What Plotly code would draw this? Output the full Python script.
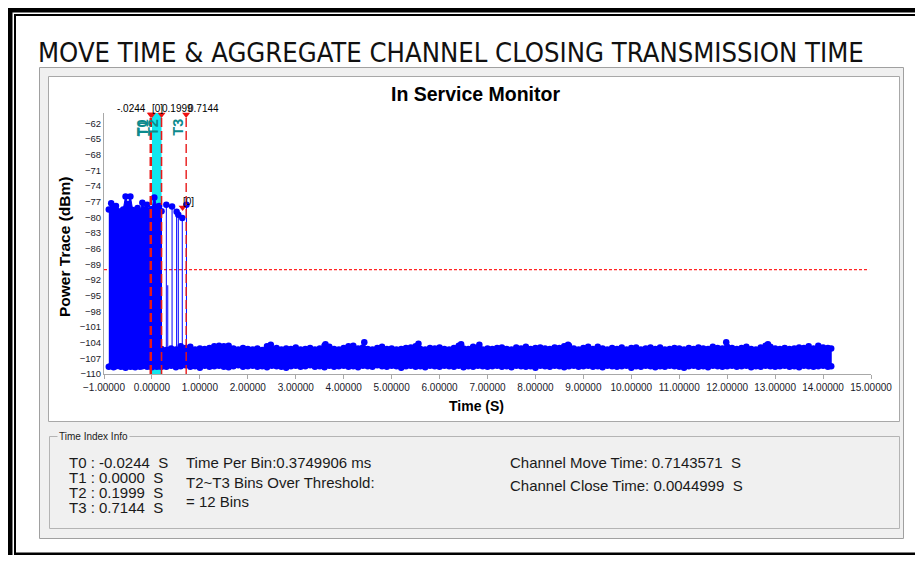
import plotly.graph_objects as go

# ---------------- data ----------------
# high-power block before the channel move (-0.9 .. 0.2 s)
t_hi = [-0.90, -0.85, -0.80, -0.75, -0.70, -0.65, -0.60, -0.55, -0.50, -0.45,
        -0.40, -0.35, -0.30, -0.25, -0.20, -0.15, -0.10, -0.05, 0.00, 0.05,
        0.10, 0.15, 0.20]
p_hi_top = [-78.5, -77.3, -78.0, -77.8, -78.8, -79.0, -78.5, -76.0, -77.5, -76.0,
            -78.6, -78.8, -78.2, -78.9, -77.2, -78.5, -77.6, -78.8, -78.4, -76.2,
            -78.0, -77.8, -78.8]
p_hi_bot = [-108.6, -108.4, -108.7, -108.5, -108.3, -108.6, -108.5, -108.8, -108.4, -108.6,
            -108.5, -108.7, -108.4, -108.6, -108.5, -108.3, -108.6, -108.5, -108.7, -108.4,
            -108.6, -108.5, -108.6]

# low-power floor after the move (0.2 .. 14.17 s)
t_lo = [0.2, 0.3, 0.4, 0.5, 0.6, 0.7, 0.8, 0.9, 1.0, 1.1,
        1.2, 1.3, 1.4, 1.5, 1.6, 1.7, 1.8, 1.9, 2.0, 2.1,
        2.2, 2.3, 2.4, 2.5, 2.6, 2.7, 2.8, 2.9, 3.0, 3.1,
        3.2, 3.3, 3.4, 3.5, 3.6, 3.7, 3.8, 3.9, 4.0, 4.1,
        4.2, 4.3, 4.4, 4.5, 4.6, 4.7, 4.8, 4.9, 5.0, 5.1,
        5.2, 5.3, 5.4, 5.5, 5.6, 5.7, 5.8, 5.9, 6.0, 6.1,
        6.2, 6.3, 6.4, 6.5, 6.6, 6.7, 6.8, 6.9, 7.0, 7.1,
        7.2, 7.3, 7.4, 7.5, 7.6, 7.7, 7.8, 7.9, 8.0, 8.1,
        8.2, 8.3, 8.4, 8.5, 8.6, 8.7, 8.8, 8.9, 9.0, 9.1,
        9.2, 9.3, 9.4, 9.5, 9.6, 9.7, 9.8, 9.9, 10.0, 10.1,
        10.2, 10.3, 10.4, 10.5, 10.6, 10.7, 10.8, 10.9, 11.0, 11.1,
        11.2, 11.3, 11.4, 11.5, 11.6, 11.7, 11.8, 11.9, 12.0, 12.1,
        12.2, 12.3, 12.4, 12.5, 12.6, 12.7, 12.8, 12.9, 13.0, 13.1,
        13.2, 13.3, 13.4, 13.5, 13.6, 13.7, 13.8, 13.9, 14.0, 14.1,
        14.17]
p_lo_top = [-105.2, -105.4, -105.1, -105.3, -104.7, -105.0, -104.8, -105.3, -105.1, -105.2,
            -105.0, -104.7, -104.6, -104.7, -104.6, -105.1, -105.3, -105.0, -105.2, -105.3,
            -105.1, -105.4, -104.7, -105.2, -105.0, -105.3, -105.1, -105.2, -104.9, -105.3,
            -105.2, -105.0, -105.3, -105.1, -104.6, -104.8, -105.2, -105.3, -105.0, -104.7,
            -104.6, -105.1, -104.9, -105.2, -105.3, -105.0, -104.8, -105.2, -105.1, -105.3,
            -105.2, -105.0, -104.9, -104.7, -105.2, -105.3, -105.0, -105.1, -104.9, -105.2,
            -105.3, -105.0, -104.6, -105.1, -105.2, -104.8, -104.9, -105.3, -105.1, -105.2,
            -105.0, -104.9, -105.2, -105.3, -104.9, -105.1, -104.8, -105.2, -105.0, -104.9,
            -105.1, -105.2, -104.9, -105.0, -104.7, -104.6, -105.1, -105.3, -105.0, -104.8,
            -105.2, -104.8, -105.1, -105.3, -105.0, -105.2, -104.9, -105.3, -105.0, -104.9,
            -105.3, -105.1, -104.9, -105.2, -104.9, -105.3, -105.2, -105.0, -105.1, -105.3,
            -105.0, -105.2, -104.9, -105.1, -105.2, -104.8, -105.0, -105.1, -104.8, -105.0,
            -105.2, -105.0, -104.8, -105.2, -105.3, -104.9, -104.6, -104.8, -105.1, -105.2,
            -105.0, -105.2, -105.1, -104.9, -105.0, -104.7, -105.1, -104.6, -104.9, -105.0,
            -105.1]
p_lo_bot = [-108.5, -108.6, -108.4, -108.7, -108.5, -108.3, -108.6, -108.5, -108.8, -108.4,
            -108.6, -108.5, -108.4, -108.6, -108.7, -108.5, -108.3, -108.6, -108.5, -108.4,
            -108.6, -108.5, -108.7, -108.4, -108.5, -108.6, -108.8, -108.5, -108.4, -108.6,
            -108.5, -108.3, -108.6, -108.5, -108.7, -108.4, -108.6, -108.5, -108.4, -108.6,
            -108.5, -108.7, -108.4, -108.5, -108.6, -108.3, -108.5, -108.6, -108.4, -108.5,
            -108.8, -108.5, -108.4, -108.6, -108.5, -108.7, -108.4, -108.5, -108.6, -108.4,
            -108.5, -108.6, -108.4, -108.7, -108.5, -108.6, -108.4, -108.5, -108.6, -108.5,
            -108.4, -108.6, -108.5, -108.7, -108.4, -108.5, -108.6, -108.5, -108.8, -108.4,
            -108.5, -108.6, -108.4, -108.5, -108.7, -108.5, -108.4, -108.6, -108.5, -108.4,
            -108.6, -108.5, -108.7, -108.4, -108.5, -108.6, -108.5, -108.4, -108.8, -108.5,
            -108.6, -108.4, -108.5, -108.7, -108.5, -108.6, -108.4, -108.5, -108.6, -108.8,
            -108.5, -108.4, -108.6, -108.5, -108.7, -108.4, -108.5, -108.6, -108.5, -108.4,
            -108.6, -108.5, -108.4, -108.7, -108.5, -108.6, -108.4, -108.5, -108.6, -108.5,
            -108.4, -108.6, -108.5, -108.7, -108.4, -108.5, -108.6, -108.5, -108.4, -108.6,
            -108.5]

# isolated peaks above the floor
t_peak = [2.48, 3.62, 4.43, 5.56, 6.45, 6.83, 8.68, 11.98, 12.85]
p_peak = [-104.4, -104.3, -103.9, -104.2, -104.3, -104.4, -104.4, -103.9, -104.3]

# spikes between T2 and T3 (with dots) and one bare stem
t_spike = [0.30, 0.42, 0.515, 0.55, 0.633, 0.72]
p_spike = [-77.6, -77.9, -78.9, -79.5, -80.1, -77.6]
t_stem = [0.33]
p_stem = [-93.0]

# time markers
t_marks = [-0.0244, 0.0, 0.1999, 0.7144]
t_names = ["T0", "T1", "T2", "T3"]
threshold = -90
x_ticks = list(range(-1, 16))
y_ticks = [-110, -107, -104, -101, -98, -95, -92, -89, -86, -83, -80, -77, -74, -71, -68, -65, -62]

info_t = ["T0 : -0.0244  S", "T1 : 0.0000  S", "T2 : 0.1999  S", "T3 : 0.7144  S"]

# ---------------- layout geometry ----------------
# the page body has an 8px margin: figure is placed at (8, 8) in the window
OFF = 8
W, H = 915, 547
L, R, T, B = 96, 52, 105, 181
PW = W - L - R
PH = H - T - B


def fx(px):
    # px: window pixel x
    return (px - OFF - L) / PW


def fy(py):
    # py: window pixel y
    return (H - B - (py - OFF)) / PH


BLUE = "#0000ff"
FONT = "Liberation Sans, Arial, sans-serif"

fig = go.Figure()

# cyan band T1..T2
fig.add_shape(type="rect", xref="x", yref="y", x0=t_marks[1], x1=t_marks[2], y0=-110, y1=-60,
              fillcolor="#12e6ef", line=dict(width=0), layer="below")
# threshold
fig.add_shape(type="line", xref="x", yref="y", x0=-1, x1=14.96, y0=threshold, y1=threshold,
              line=dict(color="#ff2424", width=1.3, dash="3px,2px"), layer="below")

# high block polygon
fig.add_trace(go.Scatter(x=t_hi + t_hi[::-1], y=p_hi_top + p_hi_bot[::-1], mode="lines",
                         fill="toself", fillcolor=BLUE, line=dict(color=BLUE, width=1),
                         hoverinfo="skip", showlegend=False))
fig.add_trace(go.Scatter(x=t_lo + t_lo[::-1], y=p_lo_top + p_lo_bot[::-1], mode="lines",
                         fill="toself", fillcolor=BLUE, line=dict(color=BLUE, width=1),
                         hoverinfo="skip", showlegend=False))
# stems for spikes and peaks
sx, sy = [], []
for t, p in zip(t_spike + t_stem, p_spike + p_stem):
    sx += [t, t, None]
    sy += [-106, p, None]
for t, p in zip(t_peak, p_peak):
    sx += [t, t, None]
    sy += [-105, p, None]
fig.add_trace(go.Scatter(x=sx, y=sy, mode="lines", line=dict(color=BLUE, width=1),
                         hoverinfo="skip", showlegend=False))
# markers
mx = t_hi + t_hi + t_lo + t_lo + t_spike + t_peak
my = p_hi_top + p_hi_bot + p_lo_top + p_lo_bot + p_spike + p_peak
fig.add_trace(go.Scatter(x=mx, y=my, mode="markers",
                         marker=dict(color=BLUE, size=6.5, line=dict(width=0)),
                         showlegend=False))

# T lines
widths = [2.5, 0, 1.6, 1.4]
for t, w in zip(t_marks, widths):
    if w > 0:
        fig.add_shape(type="line", xref="x", yref="y", x0=t, x1=t, y0=-110, y1=-60,
                      line=dict(color="#e81818", width=w, dash="9px,4px"), layer="above")
fig.add_trace(go.Scatter(x=t_marks, y=[-60.3] * 4, mode="markers",
                         marker=dict(symbol="triangle-down", color="#ee1111", size=7),
                         cliponaxis=False, showlegend=False))
# [0] marker near T3
fig.add_trace(go.Scatter(x=[0.64], y=[-78.1], mode="markers",
                         marker=dict(symbol="triangle-down", color="#ee1111", size=7),
                         showlegend=False))

shapes = []


def rect(x0, y0, x1, y1, fill=None, line=None, lw=1):
    shapes.append(dict(type="rect", xref="paper", yref="paper",
                       x0=fx(x0), x1=fx(x1), y0=fy(y1), y1=fy(y0),
                       fillcolor=fill if fill else "rgba(0,0,0,0)",
                       line=dict(color=line if line else "rgba(0,0,0,0)", width=lw if line else 0),
                       layer="below"))


# black document frame
rect(8, 8, 923, 12.5, fill="#000000")
rect(8, 8, 12.5, 555, fill="#000000")
rect(14, 14, 923, 16, fill="#000000")
rect(14, 14, 16, 553, fill="#000000")
rect(14, 552.5, 923, 555, fill="#000000")
# window panel
rect(39.5, 67.5, 903.5, 538.5, fill="#f0f0f0", line="#a0a0a0")
# chart box
rect(48.5, 76.5, 899.5, 421.5, fill="#ffffff", line="#a8a8a8")
# group box
rect(49.5, 436.5, 899.5, 528.5, line="#b4b4b4")

for s in shapes:
    fig.add_shape(**s)

ann = []


def text(px, py, s, size=14, color="#1a1a1a", family=FONT, xanchor="left", bold=False,
         angle=0, bg=None, yanchor="middle"):
    if bold:
        s = "<b>" + s + "</b>"
    d = dict(xref="paper", yref="paper", x=fx(px), y=fy(py), text=s, showarrow=False,
             xanchor=xanchor, yanchor=yanchor, textangle=angle,
             font=dict(size=size, color=color, family=family))
    if bg:
        d["bgcolor"] = bg
    ann.append(d)


text(36, 52, "MOVE TIME &amp; AGGREGATE CHANNEL CLOSING TRANSMISSION TIME", size=27.2, color="#111111",
     family="Liberation Sans Narrow, Arial Narrow, DejaVu Sans Condensed, sans-serif")
text(475, 94, "In Service Monitor", size=19.5, bold=True, xanchor="center", color="#000000")
text(64, 247, "Power Trace (dBm)", size=15.5, bold=True, xanchor="center", angle=-90, color="#000000")
text(476, 406, "Time (S)", size=14, bold=True, xanchor="center", color="#000000")

# top marker value labels
ann.append(dict(xref="x", yref="paper", x=t_marks[0], y=fy(108), text="-.0244", showarrow=False,
                xanchor="right", yanchor="middle", xshift=-3, font=dict(size=10, family=FONT, color="#000")))
ann.append(dict(xref="x", yref="paper", x=t_marks[1], y=fy(108), text="[0]", showarrow=False,
                xanchor="left", yanchor="middle", xshift=-2, font=dict(size=10, family=FONT, color="#000")))
ann.append(dict(xref="x", yref="paper", x=t_marks[2], y=fy(108), text="0.1999", showarrow=False,
                xanchor="left", yanchor="middle", xshift=-2, font=dict(size=10, family=FONT, color="#000")))
ann.append(dict(xref="x", yref="paper", x=t_marks[3], y=fy(108), text="0.7144", showarrow=False,
                xanchor="left", yanchor="middle", xshift=0, font=dict(size=10, family=FONT, color="#000")))
ann.append(dict(xref="x", yref="y", x=0.64, y=-77.0, text="[0]", showarrow=False,
                xanchor="left", yanchor="middle", xshift=-2, font=dict(size=10, family=FONT, color="#000")))
for t, n in zip(t_marks, t_names):
    ann.append(dict(xref="x", yref="paper", x=t, y=fy(117), text="<b>" + n + "</b>", showarrow=False,
                    xanchor="center", yanchor="top", xshift=-9, textangle=-90,
                    font=dict(size=14.5, family=FONT, color="#0b8a8c")))

# info box
text(57, 436, "Time Index Info", size=10, color="#222222", bg="#f0f0f0")
for i, s in enumerate(info_t):
    text(67, 462 + i * 15.2, s, size=15)
text(184, 462, "Time Per Bin:0.3749906 ms", size=15)
text(184, 482, "T2~T3 Bins Over Threshold:", size=15)
text(184, 501, "= 12 Bins", size=15)
text(508, 462, "Channel Move Time: 0.7143571  S", size=15)
text(508, 485, "Channel Close Time: 0.0044999  S", size=15)

fig.update_layout(
    width=W, height=H,
    margin=dict(l=L, r=R, t=T, b=B),
    paper_bgcolor="#ffffff", plot_bgcolor="#ffffff",
    showlegend=False,
    annotations=ann,
    font=dict(family=FONT, size=10, color="#000"),
)
fig.update_xaxes(range=[-1, 15], tickvals=x_ticks, tickformat=".5f", showgrid=False, zeroline=False,
                 showline=True, linecolor="#a8a8a8", linewidth=1, ticks="outside", ticklen=4,
                 tickcolor="#a8a8a8", tickfont=dict(size=10, color="#1a1a2a"))
fig.update_yaxes(range=[-110, -60], tickvals=y_ticks, showgrid=False, zeroline=False,
                 showline=True, linecolor="#a8a8a8", linewidth=1, ticks="",
                 tickfont=dict(size=9.5, color="#1a1a2a"))

fig.write_html("out.html")
